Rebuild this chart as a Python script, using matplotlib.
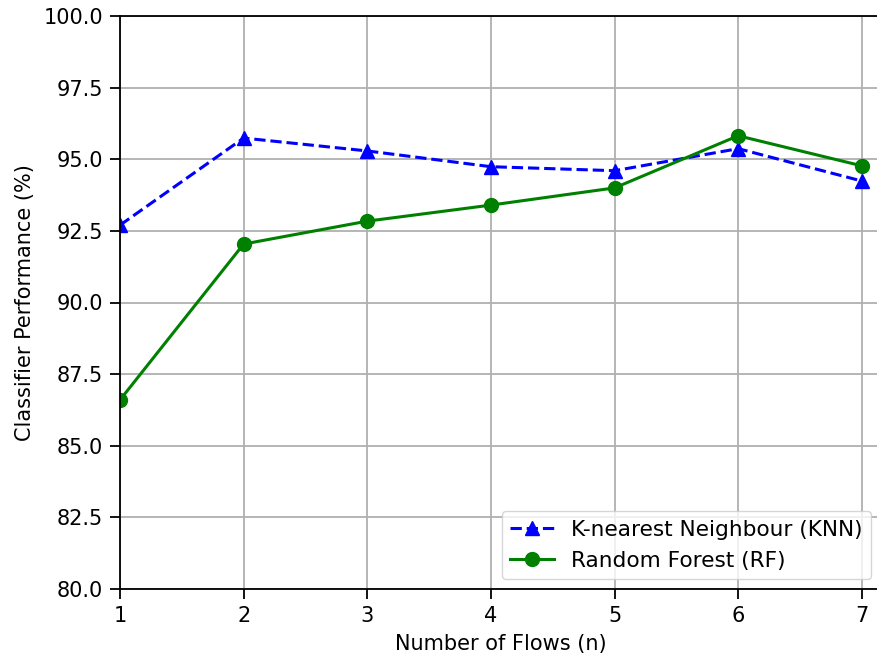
import matplotlib
matplotlib.use('Agg')
import matplotlib.pyplot as plt

# Data
flows = [1, 2, 3, 4, 5, 6, 7]
knn = [92.7, 95.74, 95.29, 94.74, 94.6, 95.37, 94.24]
rf = [86.6, 92.04, 92.84, 93.4, 94.0, 95.82, 94.77]

plt.rcParams['font.size'] = 15

fig = plt.figure(figsize=(8.77, 6.55), dpi=100)
ax = fig.add_subplot(111)
# the original image is cropped on the right, so the axes runs past the edge
fig.subplots_adjust(left=120/877, right=881/877, top=1-16/655, bottom=1-589/655)

ax.plot(flows, knn, color='blue', marker='^', linestyle='--', linewidth=2.2, markersize=10,
        label='K-nearest Neighbour (KNN)')
ax.plot(flows, rf, color='green', marker='o', linestyle='-', linewidth=2.2, markersize=10,
        label='Random Forest (RF)')

ax.set_xlim(1, 7.155)
ax.set_ylim(80, 100)
ax.set_yticks([80, 82.5, 85, 87.5, 90, 92.5, 95, 97.5, 100])
ax.tick_params(length=7, width=1.3, pad=5)
for s in ax.spines.values():
    s.set_linewidth(1.3)
ax.set_xlabel('Number of Flows (n)', labelpad=6)
ax.set_ylabel('Classifier Performance (%)', labelpad=6)
ax.grid(True, color='#b0b0b0', linewidth=1.3)
ax.legend(loc='lower right', fontsize=15.6, handlelength=2.0, borderaxespad=0.45)

fig.savefig('out.png')
